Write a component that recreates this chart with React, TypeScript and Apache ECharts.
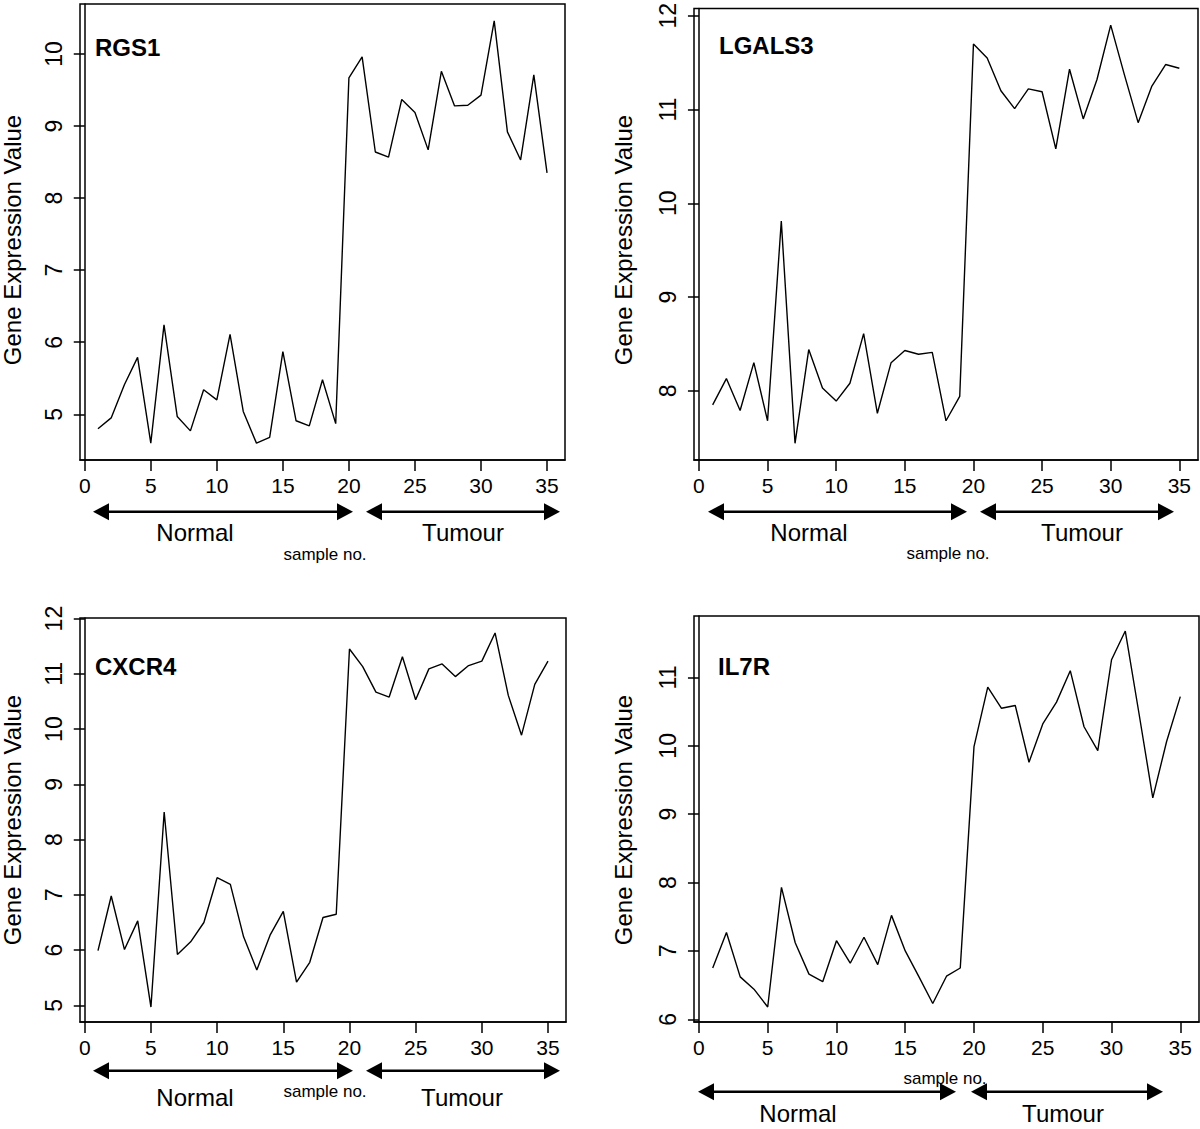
import React, { useEffect, useRef } from "react";
import * as echarts from "echarts";

// ---- data ----
const sampleNo = [1, 2, 3, 4, 5, 6, 7, 8, 9, 10, 11, 12, 13, 14, 15, 16, 17, 18, 19, 20, 21, 22, 23, 24, 25, 26, 27, 28, 29, 30, 31, 32, 33, 34, 35];

const rgs1 = [4.80, 4.95, 5.41, 5.79, 4.60, 6.24, 4.97, 4.77, 5.34, 5.20, 6.11, 5.04, 4.60, 4.68, 5.87, 4.91, 4.84, 5.48, 4.87, 9.67, 9.96, 8.64, 8.57, 9.37, 9.19, 8.67, 9.76, 9.28, 9.29, 9.43, 10.46, 8.92, 8.53, 9.71, 8.35];
const lgals3 = [7.85, 8.13, 7.79, 8.30, 7.68, 9.81, 7.44, 8.44, 8.03, 7.89, 8.08, 8.61, 7.76, 8.30, 8.43, 8.39, 8.41, 7.68, 7.94, 11.70, 11.55, 11.20, 11.01, 11.22, 11.19, 10.58, 11.43, 10.90, 11.32, 11.90, 11.37, 10.86, 11.25, 11.48, 11.44];
const cxcr4 = [5.99, 6.98, 6.01, 6.53, 4.97, 8.50, 5.92, 6.15, 6.50, 7.31, 7.19, 6.24, 5.64, 6.27, 6.70, 5.42, 5.78, 6.59, 6.65, 11.45, 11.13, 10.67, 10.58, 11.31, 10.53, 11.09, 11.18, 10.95, 11.15, 11.23, 11.74, 10.61, 9.89, 10.81, 11.23];
const il7r = [6.75, 7.27, 6.62, 6.44, 6.18, 7.93, 7.12, 6.66, 6.55, 7.15, 6.82, 7.20, 6.80, 7.52, 7.00, 6.62, 6.23, 6.63, 6.75, 9.99, 10.86, 10.55, 10.59, 9.76, 10.32, 10.64, 11.10, 10.28, 9.93, 11.26, 11.68, 10.47, 9.24, 10.06, 10.72];

const xTicks = [0, 5, 10, 15, 20, 25, 30, 35];
const rgs1Ticks = [5, 6, 7, 8, 9, 10];
const lgals3Ticks = [8, 9, 10, 11, 12];
const cxcr4Ticks = [5, 6, 7, 8, 9, 10, 11, 12];
const il7rTicks = [6, 7, 8, 9, 10, 11];

const panelNames = ["RGS1", "LGALS3", "CXCR4", "IL7R"];
const yTitle = "Gene Expression Value";
const xTitle = "sample no.";
const groupNames = ["Normal", "Tumour"];

// ---- layout ----
const FONT = '"Liberation Sans", Arial, Helvetica, sans-serif';
const grids = [
  { left: 80, top: 4, width: 485, height: 456 },
  { left: 694, top: 4, width: 504, height: 456 },
  { left: 80, top: 618, width: 486, height: 404 },
  { left: 694, top: 616, width: 505, height: 406 },
];
const titlePos = [
  [95, 48],
  [719, 46],
  [95, 666.5],
  [718, 666.5],
];
const yTitlePos = [
  [12, 240],
  [623, 240],
  [12, 820],
  [623, 820],
];
// arrows: [normalStart, normalEnd, tumourStart, tumourEnd, y]
const arrowPos = [
  [93, 353, 366, 560, 511.7],
  [708, 967, 980, 1174, 511.7],
  [93, 353, 366, 560, 1070.7],
  [698, 956, 971, 1163, 1091.7],
];
// [normalX, tumourX, labelBaseline, sampleX, sampleBaseline]
const labelPos = [
  [195, 463, 541, 325, 560],
  [809, 1082, 540.5, 948, 559.5],
  [195, 462, 1105.5, 325, 1097.5],
  [798, 1063, 1122, 945, 1084],
];

function rRange(arr: number[]): [number, number] {
  const mn = Math.min(...arr);
  const mx = Math.max(...arr);
  const d = (mx - mn) * 0.04;
  return [mn - d, mx + d];
}

function arrow(x1: number, x2: number, y: number): any[] {
  const h = 16;
  const w = 8.5;
  return [
    { type: "line", shape: { x1: x1 + h - 2, y1: y, x2: x2 - h + 2, y2: y }, style: { stroke: "#000", lineWidth: 2.5 } },
    { type: "polygon", shape: { points: [[x1, y], [x1 + h, y - w], [x1 + h, y + w]] }, style: { fill: "#000" } },
    { type: "polygon", shape: { points: [[x2, y], [x2 - h, y - w], [x2 - h, y + w]] }, style: { fill: "#000" } },
  ];
}

function text(t: string, x: number, baseline: number, size: number, align: string, bold = false): any {
  return {
    type: "text",
    x,
    y: baseline - 0.3465 * size,
    style: {
      text: t,
      fill: "#000",
      fontSize: size,
      fontFamily: FONT,
      fontWeight: bold ? "bold" : "normal",
      align,
      verticalAlign: "middle",
    },
  };
}

export default function App() {
  const ref = useRef<HTMLDivElement>(null);

  useEffect(() => {
    if (!ref.current) return;
    const chart = echarts.init(ref.current, undefined, { renderer: "svg" });
    const values = [rgs1, lgals3, cxcr4, il7r];
    const yTicks = [rgs1Ticks, lgals3Ticks, cxcr4Ticks, il7rTicks];
    const xr = rRange(sampleNo);

    const graphic: any[] = [];
    panelNames.forEach((n, i) => {
      graphic.push(text(n, titlePos[i][0], titlePos[i][1] + 8.3, 24, "left", true));
      graphic.push({
        type: "text",
        x: yTitlePos[i][0],
        y: yTitlePos[i][1],
        rotation: Math.PI / 2,
        style: { text: yTitle, fill: "#000", fontSize: 24, fontFamily: FONT, align: "center", verticalAlign: "middle" },
      });
      const a = arrowPos[i];
      graphic.push(...arrow(a[0], a[1], a[4]));
      graphic.push(...arrow(a[2], a[3], a[4]));
      const l = labelPos[i];
      graphic.push(text(groupNames[0], l[0], l[2], 24, "center"));
      graphic.push(text(groupNames[1], l[1], l[2], 24, "center"));
      graphic.push(text(xTitle, l[3], l[4], 17, "center"));
    });

    chart.setOption({
      animation: false,
      backgroundColor: "#fff",
      textStyle: { fontFamily: FONT },
      grid: grids.map((g) => ({ ...g, show: true, borderColor: "#000", borderWidth: 1.5, backgroundColor: "transparent" })),
      xAxis: grids.map((_, i) => ({
        type: "value",
        gridIndex: i,
        min: xr[0],
        max: xr[1],
        axisLine: { show: true, lineStyle: { color: "#000", width: 1.5 } },
        axisTick: { show: true, inside: false, length: 11, lineStyle: { color: "#000", width: 1.5 }, customValues: xTicks },
        axisLabel: { show: true, customValues: xTicks, fontSize: 21, color: "#000", fontFamily: FONT, margin: 15 },
        splitLine: { show: false },
      })),
      yAxis: grids.map((_, i) => {
        const yr = rRange(values[i]);
        return {
          type: "value",
          gridIndex: i,
          min: yr[0],
          max: yr[1],
          axisLine: { show: true, lineStyle: { color: "#000", width: 1.5 } },
          axisTick: { show: true, inside: false, length: 11, lineStyle: { color: "#000", width: 1.5 }, customValues: yTicks[i] },
          axisLabel: { show: true, customValues: yTicks[i], rotate: 90, fontSize: 23, color: "#000", fontFamily: FONT, margin: 15 },
          splitLine: { show: false },
        };
      }),
      series: values.map((v, i) => ({
        type: "line",
        xAxisIndex: i,
        yAxisIndex: i,
        data: sampleNo.map((s, k) => [s, v[k]]),
        symbol: "none",
        lineStyle: { color: "#000", width: 1.4 },
        silent: true,
      })),
      graphic,
    });

    return () => chart.dispose();
  }, []);

  return <div ref={ref} style={{ position: "absolute", left: 0, top: 0, width: 1200, height: 1129 }} />;
}
